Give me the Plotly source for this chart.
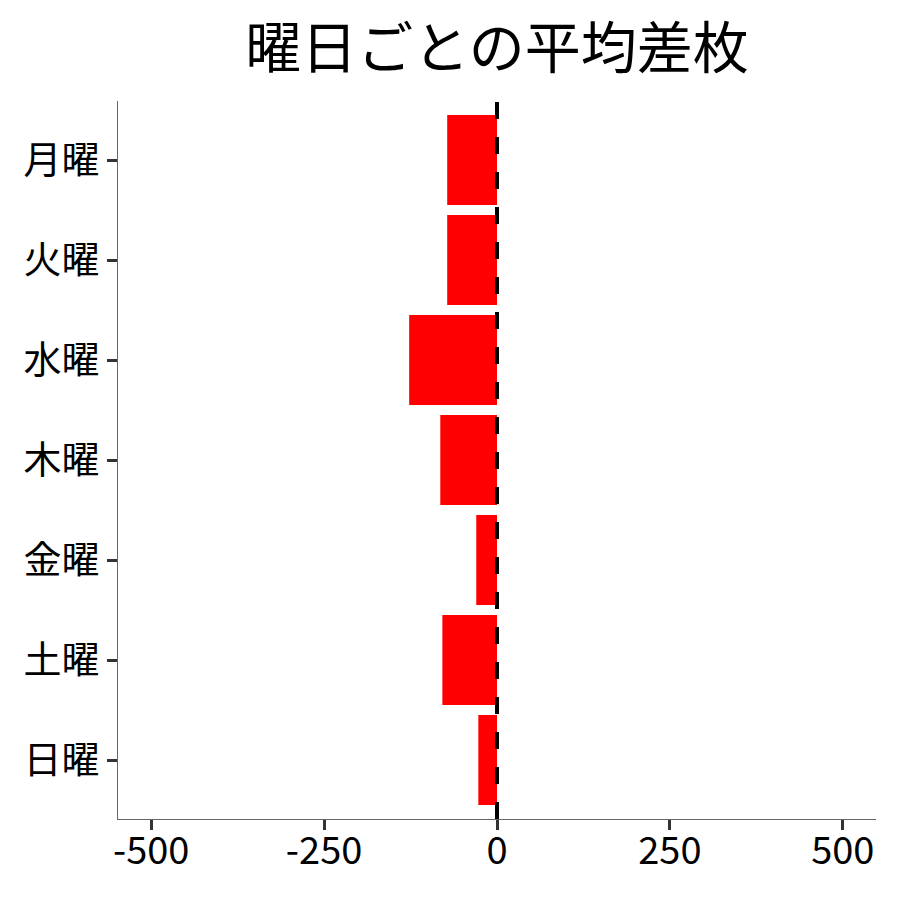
import plotly.graph_objects as go

days = ['月曜', '火曜', '水曜', '木曜', '金曜', '土曜', '日曜']
diff = [-72, -72, -127, -82, -30, -79, -27]
x_ticks = [-500, -250, 0, 250, 500]

fig = go.Figure()
fig.add_trace(go.Bar(x=diff, y=days, orientation='h', marker_color='#ff0000', marker_line_width=0))

# zero line
fig.add_vline(x=0, line_color='black', line_width=4, line_dash='17px,18px')

fig.update_layout(
    width=884, height=884,
    font_family='Noto Sans CJK JP',
    font_color='black',
    title=dict(text='曜日ごとの平均差枚', xref='paper', x=0.5, xanchor='center',
               y=0.954, yanchor='middle', font_size=56),
    plot_bgcolor='white', paper_bgcolor='white',
    margin=dict(l=110, r=16, t=93, b=73),
    bargap=0.1,
    showlegend=False,
)
fig.update_xaxes(range=[-548, 548], tickvals=x_ticks, ticktext=[str(v) for v in x_ticks],
                 showgrid=False, zeroline=False, showline=True, linecolor='#666666', linewidth=1,
                 ticks='outside', ticklen=10, tickwidth=3, tickcolor='#333333', tickfont_size=38,
                 ticklabelstandoff=-12, automargin=False)
fig.update_yaxes(categoryorder='array', categoryarray=days, range=[6.59, -0.59],
                 showgrid=False, zeroline=False, showline=True, linecolor='#666666', linewidth=1,
                 ticks='outside', ticklen=10, tickwidth=3, tickcolor='#333333', tickfont_size=38,
                 automargin=False)

fig.write_html('out.html')
